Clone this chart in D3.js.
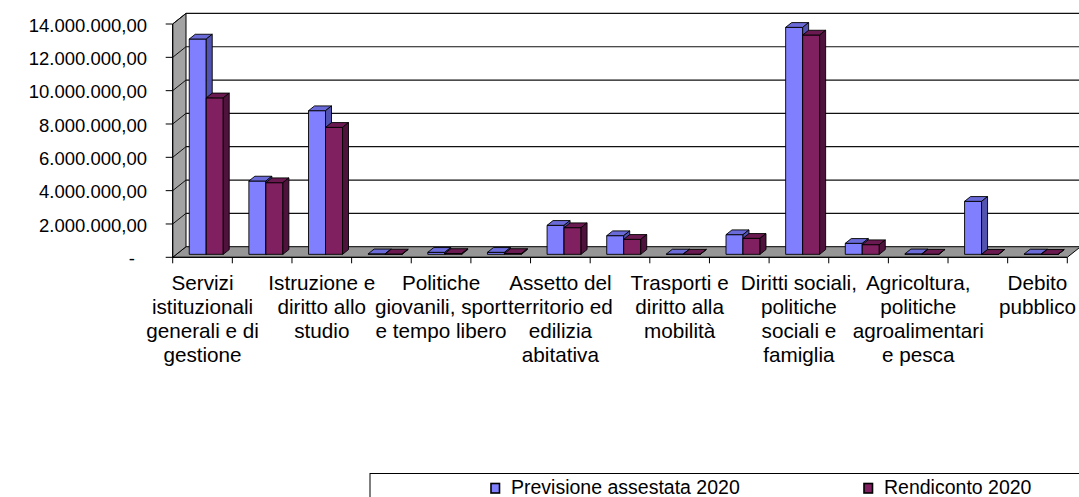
<!DOCTYPE html>
<html>
<head>
<meta charset="utf-8">
<script src="https://cdn.jsdelivr.net/npm/d3@7"></script>
<style>
  body { margin: 0; background: #fff; }
  text { font-family: "Liberation Sans", Arial, sans-serif; fill: #000; }
</style>
</head>
<body>
<svg id="chart"></svg>
<script>
// categories (missioni) - only every other label is shown, like excel did
const categories = [
  "Servizi\nistituzionali\ngenerali e di\ngestione",
  "Ordine pubblico e sicurezza",
  "Istruzione e\ndiritto allo\nstudio",
  "Tutela e valorizzazione dei beni e attività culturali",
  "Politiche\ngiovanili, sport\ne tempo libero",
  "Turismo",
  "Assetto del\nterritorio ed\nedilizia\nabitativa",
  "Sviluppo sostenibile e tutela del territorio e dell'ambiente",
  "Trasporti e\ndiritto alla\nmobilità",
  "Soccorso civile",
  "Diritti sociali,\npolitiche\nsociali e\nfamiglia",
  "Sviluppo economico e competitività",
  "Agricoltura,\npolitiche\nagroalimentari\ne pesca",
  "Fondi e accantonamenti",
  "Debito\npubblico"
];

const seriesNames = ["Previsione assestata 2020", "Rendiconto 2020"];

const previsione = [12920000, 4400000, 8620000, 30000, 120000, 120000, 1740000,
  1120000, 20000, 1180000, 13620000, 660000, 30000, 3180000, 20000];
const rendiconto = [9390000, 4300000, 7620000, 20000, 50000, 50000, 1600000,
  900000, 10000, 960000, 13160000, 580000, 10000, 0, 0];

const yTicks = [0, 2000000, 4000000, 6000000, 8000000, 10000000, 12000000, 14000000];

const width = 1079, height = 497;

// colors for front / top / side faces
const colors = [
  { front: "#8080ff", top: "#6a6ad8", side: "#5252b0" },
  { front: "#802060", top: "#6a1a50", side: "#4e123c" }
];

const svg = d3.select("#chart").attr("width", width).attr("height", height);

// oblique 3d: depth offset of the back plane
const DX = 13.3, DY = 10.6;
const z0 = 0.28, z1 = 0.73; // bar depth range

const x = d3.scaleBand().domain(d3.range(categories.length)).range([172.7, 1067.3]);
const xs = d3.scaleBand().domain([0, 1]).range([0, x.step()]).paddingOuter(0.754);
const y = d3.scaleLinear().domain([0, 14000000]).range([257.3, 24]);

const proj = (px, py, z) => [px + z * DX, py - z * DY];
const poly = (pts) => pts.map((p) => proj(p[0], p[1], p[2]).join(",")).join(" ");

const itLocale = d3.formatLocale({ decimal: ",", thousands: ".", grouping: [3], currency: ["€", ""] });
const fmt = itLocale.format(",.2f");

const [xL, xR] = x.range();
const y0 = y(0), yTop = y(14000000);

// floor
svg.append("polygon")
  .attr("points", poly([[xL, y0, 0], [xR, y0, 0], [xR, y0, 1], [xL, y0, 1]]))
  .attr("fill", "#969696")
  .attr("stroke", "#000")
  .attr("stroke-width", 1);

// left wall
svg.append("polygon")
  .attr("points", poly([[xL, y0, 0], [xL, y0, 1], [xL, yTop, 1], [xL, yTop, 0]]))
  .attr("fill", "#a3a3a3")
  .attr("stroke", "#000")
  .attr("stroke-width", 1);

// gridlines on back wall + slanted ones on the left wall
yTicks.forEach((t) => {
  if (t === 0) return;
  const a = proj(xL, y(t), 1), b = proj(xR, y(t), 1), c = proj(xL, y(t), 0);
  svg.append("line")
    .attr("x1", a[0]).attr("y1", a[1]).attr("x2", b[0]).attr("y2", b[1])
    .attr("stroke", "#111").attr("stroke-width", 1.2);
  svg.append("line")
    .attr("x1", c[0]).attr("y1", c[1]).attr("x2", a[0]).attr("y2", a[1])
    .attr("stroke", "#111").attr("stroke-width", 1);
});

// bars
const seriesValues = [previsione, rendiconto];
categories.forEach((c, i) => {
  seriesValues.forEach((vals, s) => {
    const l = x(i) + xs(s), r = l + xs.bandwidth();
    const yv = y(vals[i]);
    const g = svg.append("g")
      .attr("stroke", "#000")
      .attr("stroke-width", 0.9)
      .attr("stroke-linejoin", "round");
    g.append("polygon")
      .attr("points", poly([[l, y0, z0], [r, y0, z0], [r, yv, z0], [l, yv, z0]]))
      .attr("fill", colors[s].front);
    g.append("polygon")
      .attr("points", poly([[l, yv, z0], [r, yv, z0], [r, yv, z1], [l, yv, z1]]))
      .attr("fill", colors[s].top);
    g.append("polygon")
      .attr("points", poly([[r, y0, z0], [r, y0, z1], [r, yv, z1], [r, yv, z0]]))
      .attr("fill", colors[s].side);
  });
});

// y axis (front)
const yAxis = svg.append("g");
yAxis.append("line")
  .attr("x1", xL).attr("x2", xL).attr("y1", y0).attr("y2", yTop)
  .attr("stroke", "#000");
yTicks.forEach((t) => {
  yAxis.append("line")
    .attr("x1", xL - 7).attr("x2", xL).attr("y1", y(t)).attr("y2", y(t))
    .attr("stroke", "#000");
  // accounting style: zero shows as a dash, padded like the decimals
  yAxis.append("text")
    .attr("x", t === 0 ? 135 : 147)
    .attr("y", y(t) + 1)
    .attr("dy", "0.36em")
    .attr("text-anchor", "end")
    .style("font-size", "18.5px")
    .text(t === 0 ? "-" : fmt(t));
});

// x axis (front)
const xAxis = svg.append("g");
xAxis.append("line")
  .attr("x1", xL).attr("x2", xR).attr("y1", y0).attr("y2", y0)
  .attr("stroke", "#000");
d3.range(categories.length + 1).forEach((i) => {
  const px = xL + i * x.step();
  xAxis.append("line")
    .attr("x1", px).attr("x2", px).attr("y1", y0).attr("y2", y0 + 6)
    .attr("stroke", "#000");
});
categories.forEach((c, i) => {
  if (i % 2 !== 0) return;
  const txt = xAxis.append("text")
    .attr("text-anchor", "middle")
    .style("font-size", "20.7px");
  c.split("\n").forEach((line, k) => {
    txt.append("tspan")
      .attr("x", x(i) + x.bandwidth() / 2)
      .attr("y", 289.5 + k * 24.2)
      .text(line);
  });
});

// legend
const legend = svg.append("g");
legend.append("rect")
  .attr("x", 370).attr("y", 473.5)
  .attr("width", 800).attr("height", 60)
  .attr("fill", "#fff").attr("stroke", "#000");
const legendX = [491, 864];
seriesNames.forEach((name, s) => {
  legend.append("rect")
    .attr("x", legendX[s]).attr("y", 483.5)
    .attr("width", 8.5).attr("height", 9.5)
    .attr("fill", colors[s].front)
    .attr("stroke", "#000").attr("stroke-width", 1.6);
  legend.append("text")
    .attr("x", legendX[s] + 20).attr("y", 494)
    .style("font-size", "19.5px")
    .text(name);
});
</script>
</body>
</html>
